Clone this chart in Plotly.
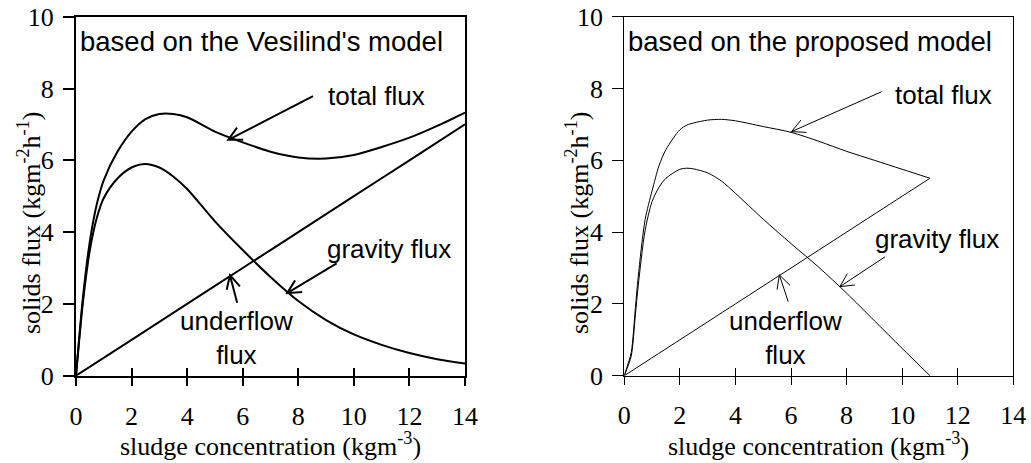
import math
import plotly.graph_objects as go

# ---------------- data ----------------
# Left panel: Vesilind's model
conc_left = [0, 0.25, 0.5, 0.75, 1, 1.5, 2, 2.5, 3, 3.5, 4, 5, 6, 7, 8, 9, 10, 11, 12, 13, 14]
gravity_left = [0, 2.05, 3.5, 4.4, 4.95, 5.5, 5.8, 5.9, 5.8, 5.55, 5.2, 4.3, 3.5, 2.75,
                2.08, 1.55, 1.15, 0.86, 0.63, 0.46, 0.34]
total_left = [0, 2.18, 3.75, 4.78, 5.45, 6.25, 6.8, 7.15, 7.29, 7.29, 7.2, 6.8, 6.5, 6.24,
              6.08, 6.05, 6.15, 6.37, 6.63, 6.96, 7.33]
under_conc_left = [0, 2, 4, 6, 8, 10, 12, 14]
underflow_left = [0, 1, 2, 3, 4, 5, 6, 7]

# Right panel: proposed model
conc_right = [0, 0.1, 0.25, 0.4, 0.5, 0.75, 1, 1.25, 1.5, 2, 2.25, 2.5, 3, 3.5, 4, 5, 6, 7,
              8, 9, 10, 11]
gravity_right = [0, 0.2, 0.55, 1.7, 2.5, 4.05, 4.85, 5.25, 5.5, 5.75, 5.78, 5.76, 5.65, 5.42,
                 5.08, 4.36, 3.68, 3.02, 2.3, 1.53, 0.76, 0]
total_right = [0, 0.25, 0.65, 1.9, 2.75, 4.35, 5.15, 5.85, 6.3, 6.85, 6.98, 7.04, 7.12, 7.14,
               7.1, 6.94, 6.78, 6.53, 6.25, 6.0, 5.75, 5.5]
under_conc_right = [0, 2, 4, 6, 8, 10, 11]
underflow_right = [0, 1, 2, 3, 4, 5, 5.5]

x_ticks = [0, 2, 4, 6, 8, 10, 12, 14]
y_ticks = [0, 2, 4, 6, 8, 10]

# ---------------- layout geometry ----------------
W, H = 1031, 463
L_DOM = [76 / W, 465 / W]
R_DOM = [624.3 / W, 1013.3 / W]
Y_DOM = [(H - 375.7) / H, (H - 16.7) / H]
PX_X = 389 / 14.0   # px per x unit
PX_Y = 359 / 10.0   # px per y unit

SERIF = "Liberation Serif"
SANS = "Liberation Sans"

fig = go.Figure()

def add_line(x, y, xa, ya, w):
    fig.add_trace(go.Scatter(x=x, y=y, xaxis=xa, yaxis=ya, mode="lines",
                             line=dict(color="black", width=w, shape="spline", smoothing=0.8),
                             showlegend=False, hoverinfo="skip"))

add_line(conc_left, gravity_left, "x", "y", 2)
add_line(conc_left, total_left, "x", "y", 2)
add_line(under_conc_left, underflow_left, "x", "y", 2)
add_line(conc_right, gravity_right, "x2", "y2", 1)
add_line(conc_right, total_right, "x2", "y2", 1)
add_line(under_conc_right, underflow_right, "x2", "y2", 1)

# empty traces so that the overlay (inside-tick) axes are drawn
fig.add_trace(go.Scatter(x=[], y=[], xaxis="x3", yaxis="y", showlegend=False, hoverinfo="skip"))
fig.add_trace(go.Scatter(x=[], y=[], xaxis="x4", yaxis="y2", showlegend=False, hoverinfo="skip"))

def xaxis_main(dom, anchor, lw):
    return dict(domain=dom, anchor=anchor, range=[0, 14], tickvals=x_ticks,
                ticks="outside", ticklen=8, tickwidth=lw, tickcolor="black",
                showline=True, linecolor="black", linewidth=lw, mirror=True,
                showgrid=False, zeroline=False, automargin=False,
                tickfont=dict(family=SERIF, size=26, color="black"),
                ticklabelstandoff=8, fixedrange=True)

def xaxis_overlay(over, anchor, lw):
    return dict(overlaying=over, anchor=anchor, side="bottom", range=[0, 14], tickvals=x_ticks,
                ticks="inside", ticklen=8, tickwidth=lw, tickcolor="black",
                showline=False, showgrid=False, zeroline=False, showticklabels=False,
                automargin=False, fixedrange=True)

def yaxis_main(anchor, lw):
    return dict(domain=Y_DOM, anchor=anchor, range=[0, 10], tickvals=y_ticks,
                ticks="outside", ticklen=11, tickwidth=lw, tickcolor="black",
                showline=True, linecolor="black", linewidth=lw, mirror=True,
                showgrid=False, zeroline=False, automargin=False,
                tickfont=dict(family=SERIF, size=26, color="black"),
                ticklabelstandoff=4, fixedrange=True)

fig.update_layout(
    width=W, height=H, margin=dict(l=0, r=0, t=0, b=0, autoexpand=False),
    font=dict(family=SERIF, color="black"),
    paper_bgcolor="white", plot_bgcolor="white", showlegend=False, hovermode=False,
    xaxis=xaxis_main(L_DOM, "y", 2),
    yaxis=yaxis_main("x", 2),
    xaxis2=xaxis_main(R_DOM, "y2", 1),
    yaxis2=yaxis_main("x2", 1),
    xaxis3=xaxis_overlay("x", "y", 2),
    xaxis4=xaxis_overlay("x2", "y2", 1),
)

annotations = []
def text(t, x, y, xr, yr, size=26, family=SANS, xanchor="center", yanchor="middle",
         angle=0, xshift=0):
    annotations.append(dict(text=t, x=x, y=y, xref=xr, yref=yr, showarrow=False,
                            xanchor=xanchor, yanchor=yanchor, textangle=angle, xshift=xshift,
                            font=dict(family=family, size=size, color="black")))

# panel labels
text("based on the Vesilind's model", 0, 9.30, "x", "y", size=27.5, xanchor="left", xshift=2)
text("total flux", 10.83, 7.79, "x", "y")
text("gravity flux", 11.28, 3.53, "x", "y")
text("underflow<br>flux", 5.79, 1.04, "x", "y")

text("based on the proposed model", 0, 9.30, "x2", "y2", size=27.5, xanchor="left", xshift=2)
text("total flux", 11.47, 7.82, "x2", "y2")
text("gravity flux", 11.27, 3.81, "x2", "y2")
text("underflow<br>flux", 5.81, 1.06, "x2", "y2")

# axis titles
xt = "sludge concentration (kgm<sup>-3</sup>)"
yt = "solids flux (kgm<sup>-2</sup>h<sup>-1</sup>)"
text(xt, (L_DOM[0] + L_DOM[1]) / 2, (H - 444) / H, "paper", "paper", family=SERIF)
text(xt, (R_DOM[0] + R_DOM[1]) / 2, (H - 444) / H, "paper", "paper", family=SERIF)
text(yt, 30 / W, (H - 223) / H, "paper", "paper", family=SERIF, angle=-90)
text(yt, 578 / W, (H - 223) / H, "paper", "paper", family=SERIF, angle=-90)

fig.update_layout(annotations=annotations)

# arrows with open heads (tail -> tip), in data units
arrows_left = [((8.53, 7.79), (5.48, 6.57)),
               ((9.38, 3.13), (7.60, 2.30)),
               ((5.80, 2.03), (5.54, 2.80))]
arrows_right = [((9.26, 7.91), (6.02, 6.80)),
                ((9.38, 3.31), (7.76, 2.48)),
                ((5.90, 2.06), (5.58, 2.81))]

def arrow_path(tail, tip, head=15, ang=27):
    dxp = (tip[0] - tail[0]) * PX_X
    dyp = (tip[1] - tail[1]) * PX_Y
    n = math.hypot(dxp, dyp)
    ux, uy = dxp / n, dyp / n
    pts = []
    for s in (1, -1):
        a = math.radians(ang) * s
        rx = ux * math.cos(a) - uy * math.sin(a)
        ry = ux * math.sin(a) + uy * math.cos(a)
        pts.append((tip[0] - head * rx / PX_X, tip[1] - head * ry / PX_Y))
    return (f"M{tail[0]},{tail[1]} L{tip[0]},{tip[1]} "
            f"M{pts[0][0]},{pts[0][1]} L{tip[0]},{tip[1]} L{pts[1][0]},{pts[1][1]}")

shapes = []
for tail, tip in arrows_left:
    shapes.append(dict(type="path", path=arrow_path(tail, tip), xref="x", yref="y",
                       line=dict(color="black", width=2)))
for tail, tip in arrows_right:
    shapes.append(dict(type="path", path=arrow_path(tail, tip), xref="x2", yref="y2",
                       line=dict(color="black", width=1)))
fig.update_layout(shapes=shapes)

fig.write_html("out.html", config={"displayModeBar": False})
